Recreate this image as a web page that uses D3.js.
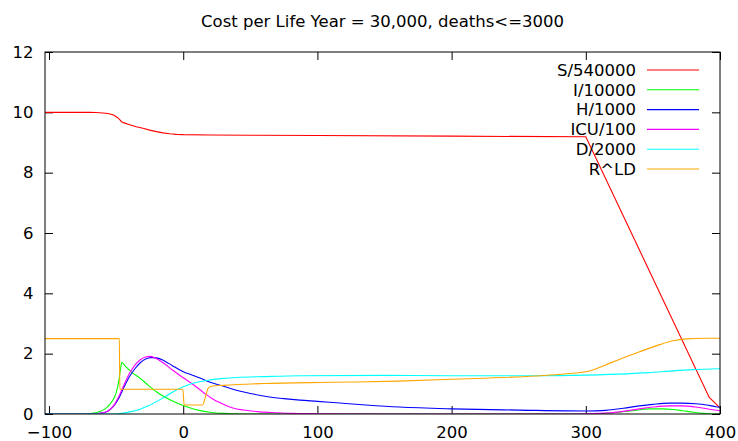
<!DOCTYPE html>
<html>
<head>
<meta charset="utf-8">
<script src="https://cdn.jsdelivr.net/npm/d3@7"></script>
<style>
  body { margin: 0; background: #fff; }
  text { font-family: "DejaVu Sans", sans-serif; font-size: 16.5px; fill: #000; }
  .tick line { stroke: #000; }
</style>
</head>
<body>
<div id="chart"></div>
<script>
// Values (x = day, y = scaled value)
var sX = [-103, -70, -65, -60, -56, -52, -49, -47, -46, -44, -40, -35, -30, -25, -20, -15, -10, -5, 0, 20, 50, 100, 200, 300, 392, 396, 400];
var sY = [10, 10, 9.995, 9.98, 9.96, 9.91, 9.83, 9.74, 9.69, 9.65, 9.59, 9.52, 9.47, 9.41, 9.36, 9.32, 9.29, 9.27, 9.26, 9.25, 9.24, 9.23, 9.21, 9.19, 0.55, 0.38, 0.2];

var iX = [-103, -75, -68, -62, -57, -53, -50, -48, -46.5, -45.8, -43, -38, -32, -26, -20, -14, -8, 0, 6, 12, 20, 30, 45, 300, 320, 335, 347, 357, 365, 372, 380, 388, 395, 400];
var iY = [0, 0, 0.02, 0.08, 0.21, 0.42, 0.7, 1.1, 1.55, 1.71, 1.58, 1.37, 1.18, 0.95, 0.74, 0.57, 0.43, 0.28, 0.19, 0.12, 0.06, 0.02, 0, 0, 0.04, 0.11, 0.17, 0.17, 0.15, 0.11, 0.06, 0.02, 0, 0];

var hX = [-103, -70, -62, -56, -52, -48, -44, -40, -36, -32, -28, -24, -20, -14, -8, 0, 6, 12, 20, 30, 37, 50, 62, 75, 87, 100, 112, 136, 161, 200, 250, 300, 315, 328, 340, 350, 362, 372, 382, 390, 397, 400];
var hY = [0, 0, 0.02, 0.1, 0.25, 0.52, 0.9, 1.24, 1.5, 1.70, 1.82, 1.87, 1.86, 1.76, 1.60, 1.40, 1.30, 1.20, 1.05, 0.92, 0.82, 0.68, 0.58, 0.51, 0.46, 0.42, 0.38, 0.30, 0.23, 0.17, 0.13, 0.10, 0.12, 0.19, 0.27, 0.32, 0.36, 0.36, 0.34, 0.30, 0.24, 0.22];

var cX = [-103, -70, -62, -56, -52, -48, -44, -40, -36, -32, -28, -25, -21, -15, -8, 0, 6, 12, 17, 22, 27, 32, 37, 45, 55, 65, 80, 100, 150, 290, 310, 325, 340, 350, 362, 372, 382, 392, 400];
var cY = [0, 0, 0.02, 0.1, 0.27, 0.58, 0.98, 1.35, 1.62, 1.80, 1.89, 1.91, 1.86, 1.70, 1.46, 1.20, 1.02, 0.82, 0.65, 0.50, 0.38, 0.28, 0.20, 0.13, 0.08, 0.05, 0.02, 0.01, 0, 0, 0.02, 0.07, 0.17, 0.23, 0.27, 0.27, 0.23, 0.16, 0.11];

var dX = [-103, -52, -46, -40, -32, -26, -20, -14, -8, 0, 6, 12, 20, 30, 40, 60, 87, 150, 200, 263, 300, 330, 347, 365, 380, 400];
var dY = [0, 0, 0.02, 0.07, 0.16, 0.27, 0.41, 0.56, 0.72, 0.90, 1.00, 1.07, 1.13, 1.18, 1.21, 1.24, 1.27, 1.28, 1.27, 1.27, 1.29, 1.33, 1.37, 1.43, 1.47, 1.50];

var rX = [-103, -47.6, -47.2, -0.3, 0.7, 14.5, 16.5, 18.5, 21, 30, 60, 110, 160, 200, 263, 290, 300, 320, 340, 355, 365, 375, 388, 400];
var rY = [2.5, 2.5, 0.82, 0.82, 0.30, 0.30, 0.55, 0.85, 0.92, 0.95, 1.01, 1.05, 1.09, 1.15, 1.26, 1.35, 1.40, 1.72, 2.06, 2.30, 2.43, 2.49, 2.51, 2.51];

var seriesNames = ["S/540000", "I/10000", "H/1000", "ICU/100", "D/2000", "R^LD"];
var seriesColors = ["#ff0000", "#00ff00", "#0000ff", "#ff00ff", "#00ffff", "#ffa500"];
var seriesX = [sX, iX, hX, cX, dX, rX];
var seriesY = [sY, iY, hY, cY, dY, rY];

var xTicks = [-100, 0, 100, 200, 300, 400];
var yTicks = [0, 2, 4, 6, 8, 10, 12];
var title = "Cost per Life Year = 30,000, deaths<=3000";

var W = 738, H = 441;
var margin = { top: 52, right: 18, bottom: 27, left: 45 },
    width = W - margin.left - margin.right,
    height = H - margin.top - margin.bottom;

var svg = d3.select("#chart").append("svg")
    .attr("width", W)
    .attr("height", H);

var g = svg.append("g")
    .attr("transform", "translate(" + margin.left + "," + margin.top + ")");

var x = d3.scaleLinear().domain([-103, 400]).range([0, width]);
var y = d3.scaleLinear().domain([0, 12]).range([height, 0]);

// Title
svg.append("text")
    .attr("x", margin.left + width / 2)
    .attr("y", 27)
    .attr("text-anchor", "middle")
    .text(title);

// Axes: gnuplot style, inward ticks mirrored on all sides
var tickLen = 8;
var bottomAxis = g.append("g")
    .attr("transform", "translate(0," + height + ")")
    .call(d3.axisBottom(x).tickValues(xTicks).tickSize(-tickLen).tickSizeOuter(0).tickPadding(12));
var leftAxis = g.append("g")
    .call(d3.axisLeft(y).tickValues(yTicks).tickSize(-tickLen).tickSizeOuter(0).tickPadding(11.5));
var topAxis = g.append("g")
    .call(d3.axisTop(x).tickValues(xTicks).tickSize(-tickLen).tickSizeOuter(0).tickFormat(""));
var rightAxis = g.append("g")
    .attr("transform", "translate(" + width + ",0)")
    .call(d3.axisRight(y).tickValues(yTicks).tickSize(-tickLen).tickSizeOuter(0).tickFormat(""));

[bottomAxis, leftAxis, topAxis, rightAxis].forEach(function(a) {
    a.select(".domain").remove();
    a.attr("font-family", null).attr("font-size", null);
});

// Clip the curves to the plot area
g.append("clipPath").attr("id", "clip")
    .append("rect").attr("width", width).attr("height", height);

var smooth = d3.line()
    .x(function(d) { return x(d[0]); })
    .y(function(d) { return y(d[1]); })
    .curve(d3.curveMonotoneX);
// S has a hard corner at day 300, so keep it straight between samples
var straight = d3.line()
    .x(function(d) { return x(d[0]); })
    .y(function(d) { return y(d[1]); });

var curves = g.append("g").attr("clip-path", "url(#clip)");
seriesNames.forEach(function(name, i) {
    var pts = seriesX[i].map(function(v, j) { return [v, seriesY[i][j]]; });
    curves.append("path")
        .datum(pts)
        .attr("d", i === 0 ? straight : smooth)
        .attr("fill", "none")
        .attr("stroke", seriesColors[i])
        .attr("stroke-width", 1.1);
});

// Frame
g.append("rect")
    .attr("width", width)
    .attr("height", height)
    .attr("fill", "none")
    .attr("stroke", "#000")
    .attr("stroke-width", 1);

// Legend
var legend = svg.append("g").attr("class", "legend");
seriesNames.forEach(function(name, i) {
    var ly = 70 + i * 19.8;
    legend.append("text")
        .attr("x", 636)
        .attr("y", ly)
        .attr("dy", "0.35em")
        .attr("text-anchor", "end")
        .text(name);
    legend.append("line")
        .attr("x1", 647).attr("x2", 699)
        .attr("y1", ly).attr("y2", ly)
        .attr("stroke", seriesColors[i])
        .attr("stroke-width", 1.1);
});
</script>
</body>
</html>
